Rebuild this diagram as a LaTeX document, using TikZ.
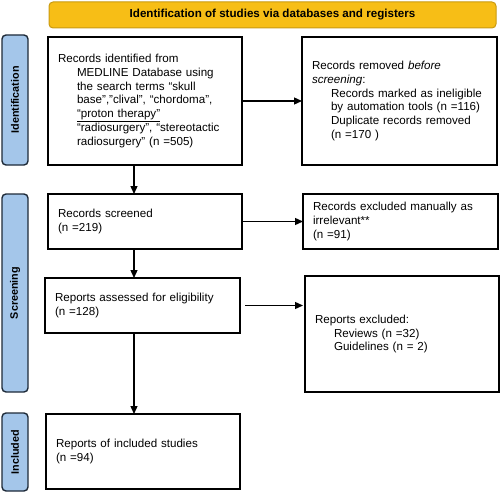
\documentclass[tikz,border=0pt]{standalone}
\usepackage{fontspec}
\setmainfont{Liberation Sans}
\usetikzlibrary{arrows.meta}
\definecolor{gold}{HTML}{F7BE16}
\definecolor{golddark}{HTML}{C99A10}
\definecolor{sideblue}{HTML}{A4C6EA}
\definecolor{sideborder}{HTML}{1E2A38}
\tikzset{
  box/.style={draw, line width=1.5pt, anchor=north west, align=left, inner xsep=10pt, inner ysep=0pt, outer sep=0pt,
    font=\fontsize{11.6}{13.8}\selectfont},
  sidelabel/.style={draw=sideborder, fill=sideblue, line width=1.4pt, rounded corners=4pt, rotate=90,
    minimum height=26pt, inner sep=0pt, outer sep=0pt, font=\fontsize{10.8}{12}\selectfont\bfseries},
  banner/.style={draw=golddark, fill=gold, line width=1pt, rounded corners=4pt, minimum width=447pt,
    minimum height=26pt, inner sep=0pt, font=\fontsize{11.6}{13.8}\selectfont\bfseries},
  arr/.style={line width=1.3pt, -{Triangle[length=8pt,width=7pt]}}
}
\newcommand{\ind}{\hspace*{19pt}}
\begin{document}
\begin{tikzpicture}[x=1pt,y=-1pt]
\useasboundingbox (0,0) rectangle (500,492);
\node[banner] (ban) at (272.5,15) {Identification of studies via databases and registers};

\node[sidelabel, minimum width=130pt] (lid) at (15,100) {Identification};
\node[sidelabel, minimum width=198pt] (lsc) at (15,293) {Screening};
\node[sidelabel, minimum width=78pt] (lin) at (15,452) {Included};

\node[box, text width=174pt, minimum height=128pt] (b1) at (48,37) {Records identified from\\
\ind MEDLINE Database using\\
\ind the search terms “skull\\
\ind base”,”clival”, “chordoma”,\\
\ind \underline{“proton therapy”}\\
\ind “radiosurgery”, “stereotactic\\
\ind radiosurgery” (n =505)};

\node[box, text width=175pt, minimum height=128pt] (b2) at (302,37) {Records removed \textit{before}\\
\textit{screening}:\\
\ind Records marked as ineligible\\
\ind by automation tools (n =116)\\
\ind Duplicate records removed\\
\ind (n =170 )};

\node[box, text width=174pt, minimum height=55pt] (scr) at (48,194) {Records screened\\(n =219)};
\node[box, text width=175pt, minimum height=55pt] (ex1) at (303,194) {Records excluded manually as\\irrelevant**\\(n =91)};

\node[box, text width=175pt, minimum height=55pt] (ass) at (45,278) {Reports assessed for eligibility\\(n =128)};
\node[box, text width=174pt, minimum height=116pt] (rex) at (305,276) {Reports excluded:\\
\ind Reviews (n =32)\\
\ind Guidelines (n = 2)};

\node[box, text width=174pt, minimum height=75pt] (inc) at (46,414) {Reports of included studies\\(n =94)};

\coordinate (cx) at (134,0);
\draw[arr] (b1.east) -- (b1.east -| b2.west);
\draw[arr] (b1.south -| cx) -- (scr.north -| cx);
\draw[arr] (scr.east) -- (scr.east -| ex1.west);
\draw[arr] (scr.south -| cx) -- (ass.north -| cx);
\draw[arr, shorten <=5pt, shorten >=2pt] (ass.east) -- (ass.east -| rex.west);
\draw[arr] (ass.south -| cx) -- (inc.north -| cx);
\end{tikzpicture}
\end{document}
